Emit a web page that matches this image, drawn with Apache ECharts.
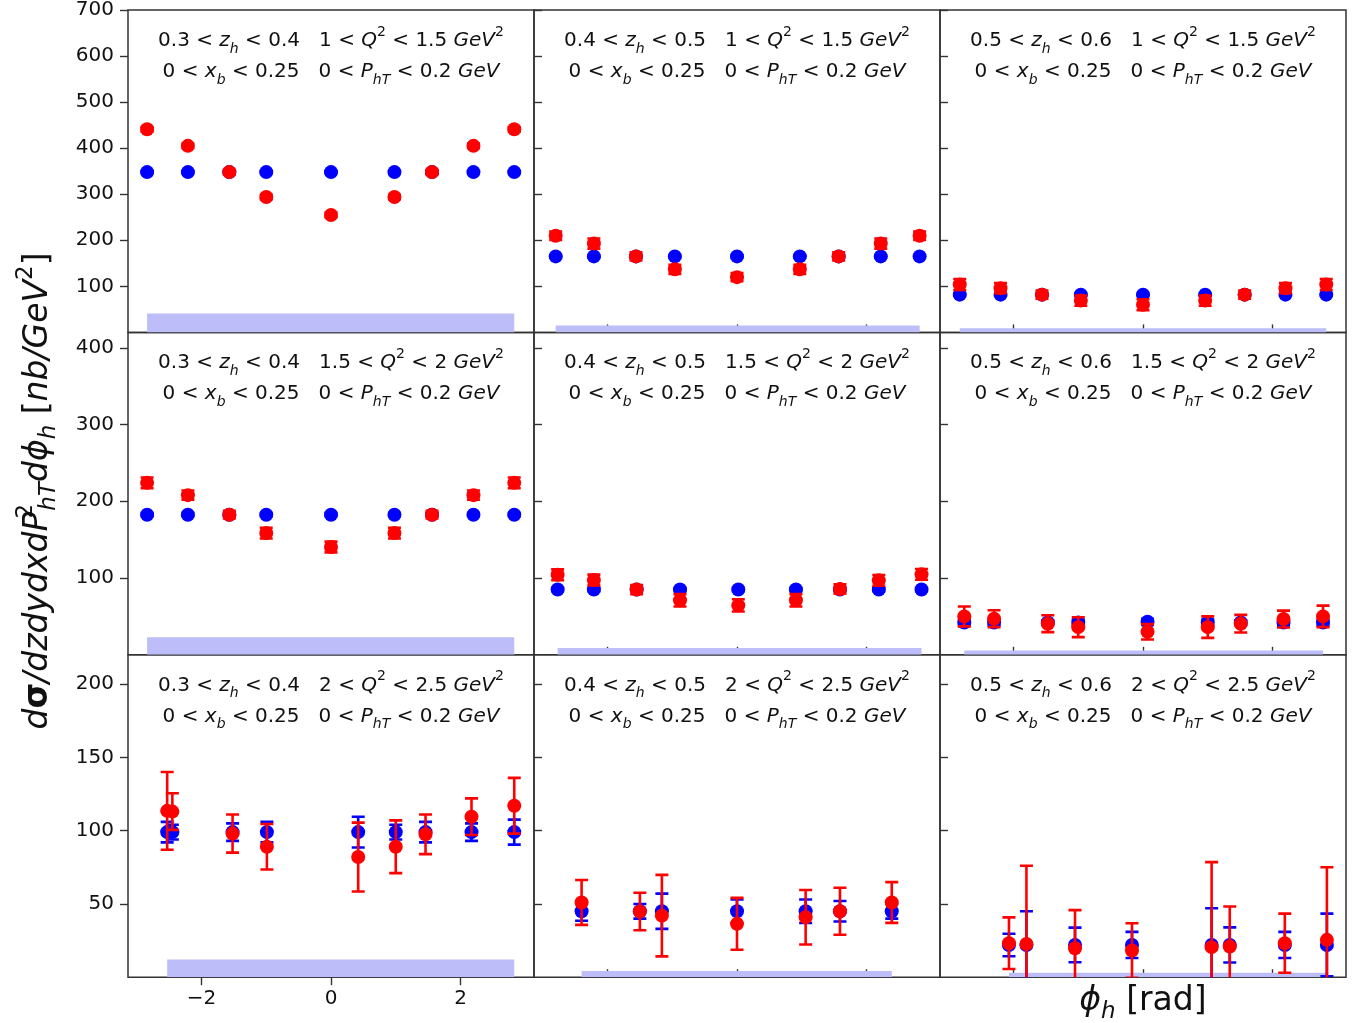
<!DOCTYPE html>
<html>
<head>
<meta charset="utf-8">
<script src="https://cdn.jsdelivr.net/npm/echarts@6/dist/echarts.min.js"></script>
<style>
  html, body { margin: 0; padding: 0; background: #fff; }
  #main { width: 1357px; height: 1023px; }
</style>
</head>
<body>
<div id="main"></div>
<script>
// bins shown in the panel labels
var zBins = [['0.3', '0.4'], ['0.4', '0.5'], ['0.5', '0.6']];
var q2Bins = [['1', '1.5'], ['1.5', '2'], ['2', '2.5']];

// x ticks (phi_h) and y ticks per row
var phiTicks = [-2, 0, 2];
var yMaxRow = [700, 420, 220];
var yTicksRow1 = [100, 200, 300, 400, 500, 600, 700];
var yTicksRow2 = [100, 200, 300, 400];
var yTicksRow3 = [50, 100, 150, 200];

// row 1 : 1 < Q2 < 1.5
var phi11 = [-2.84, -2.21, -1.57, -1.0, 0, 0.98, 1.56, 2.2, 2.83];
var blue11 = [348, 348, 348, 348, 348, 348, 348, 348, 348];
var blueErr11 = [2, 2, 2, 2, 2, 2, 2, 2, 2];
var red11 = [441, 405, 348, 294, 255, 294, 348, 405, 441];
var redErr11 = [5, 5, 5, 5, 5, 5, 5, 5, 5];
var band11 = 41;

var phi12 = [-2.8, -2.21, -1.56, -0.96, 0, 0.97, 1.57, 2.22, 2.82];
var blue12 = [165, 165, 165, 165, 165, 165, 165, 165, 165];
var blueErr12 = [2, 2, 2, 2, 2, 2, 2, 2, 2];
var red12 = [210, 193, 165, 137, 120, 137, 165, 193, 210];
var redErr12 = [9, 11, 9, 10, 9, 10, 9, 11, 9];
var band12 = 15;

var phi13 = [-2.83, -2.2, -1.56, -0.96, 0, 0.96, 1.57, 2.2, 2.83];
var blue13 = [82, 82, 82, 82, 82, 82, 82, 82, 82];
var blueErr13 = [2, 2, 2, 2, 2, 2, 2, 2, 2];
var red13 = [104, 96, 82, 69, 60, 69, 82, 96, 104];
var redErr13 = [12, 11, 9, 11, 12, 11, 9, 11, 12];
var band13 = 9;

// row 2 : 1.5 < Q2 < 2
var phi21 = [-2.84, -2.21, -1.57, -1.0, 0, 0.98, 1.56, 2.2, 2.83];
var blue21 = [182.5, 182.5, 182.5, 182.5, 182.5, 182.5, 182.5, 182.5, 182.5];
var blueErr21 = [2, 2, 2, 2, 2, 2, 2, 2, 2];
var red21 = [224, 208, 182.5, 158.6, 140.4, 158.6, 182.5, 208, 224];
var redErr21 = [7, 6, 5, 7, 7, 7, 5, 6, 7];
var band21 = 23;

var phi22 = [-2.77, -2.21, -1.55, -0.88, 0.02, 0.91, 1.59, 2.19, 2.85];
var blue22 = [85, 85, 85, 85, 85, 85, 85, 85, 85];
var blueErr22 = [2, 2, 2, 2, 2, 2, 2, 2, 2];
var red22 = [104.3, 97.4, 85, 71, 64.4, 71, 85.7, 97, 104.8];
var redErr22 = [7, 7, 6, 8, 8, 8, 6, 7, 7];
var band22 = 8.7;

var phi23 = [-2.76, -2.3, -1.47, -1.0, 0.07, 1.0, 1.51, 2.17, 2.78];
var blue23 = [42, 42, 42, 42, 43, 42, 42, 42, 42];
var blueErr23 = [4, 4, 3, 4, 4, 4, 3, 4, 4];
var red23 = [50, 47, 40.5, 36, 30, 36, 40.5, 46.6, 50];
var redErr23 = [13, 11, 11, 13, 10, 14, 11.5, 11, 14];
var band23 = 5.6;

// row 3 : 2 < Q2 < 2.5
var phi31 = [-2.53, -2.45, -1.52, -0.99, 0.42, 1.0, 1.46, 2.17, 2.83];
var blue31 = [99, 99, 99, 99, 99, 99, 99, 99, 99];
var blueErr31 = [7, 5, 6, 7, 10.5, 5, 7, 6, 8.5];
var red31 = [113.5, 113, 98, 89, 82, 89, 97.5, 109.5, 117];
var redErr31 = [26.5, 12.5, 13, 15.5, 23.5, 18, 13.5, 12.5, 19];
var band31 = 12;

var phi32 = [-2.4, -1.5, -1.16, 0, 1.06, 1.59, 2.39];
var blue32 = [45, 45, 45, 45, 45, 45, 45];
var blueErr32 = [6.5, 5, 12, 8, 8, 7, 5];
var red32 = [51, 44.8, 42, 36.4, 40.9, 45, 51];
var redErr32 = [15.3, 12.8, 27.8, 17.7, 18.6, 16, 13.9];
var band32 = 4.3;

var phi33 = [-2.07, -1.8, -1.05, -0.17, 1.06, 1.34, 2.19, 2.84];
var blue33 = [22, 22, 22, 22, 22, 22, 22, 22];
var blueErr33 = [7.7, 23, 11.8, 8.9, 25, 12, 8.9, 21.4];
var red33 = [23.2, 22.7, 19.8, 18.2, 20.5, 20.9, 23.2, 25.5];
var redErr33 = [17.6, 53.4, 26, 18.6, 58, 27.3, 20.2, 49.5];
var band33 = 3;

var panels = [
  { phi: phi11, blue: blue11, blueErr: blueErr11, red: red11, redErr: redErr11, band: band11 },
  { phi: phi12, blue: blue12, blueErr: blueErr12, red: red12, redErr: redErr12, band: band12 },
  { phi: phi13, blue: blue13, blueErr: blueErr13, red: red13, redErr: redErr13, band: band13 },
  { phi: phi21, blue: blue21, blueErr: blueErr21, red: red21, redErr: redErr21, band: band21 },
  { phi: phi22, blue: blue22, blueErr: blueErr22, red: red22, redErr: redErr22, band: band22 },
  { phi: phi23, blue: blue23, blueErr: blueErr23, red: red23, redErr: redErr23, band: band23 },
  { phi: phi31, blue: blue31, blueErr: blueErr31, red: red31, redErr: redErr31, band: band31 },
  { phi: phi32, blue: blue32, blueErr: blueErr32, red: red32, redErr: redErr32, band: band32 },
  { phi: phi33, blue: blue33, blueErr: blueErr33, red: red33, redErr: redErr33, band: band33 }
];
var yTicksByRow = [yTicksRow1, yTicksRow2, yTicksRow3];

// layout
var L = 128, T = 10, W = 406, H = 322.4;
var FONT = 'DejaVu Sans';
var INK = '#111';

var richPanel = {
  n:  { fontFamily: FONT, fontSize: 20, lineHeight: 31, color: INK },
  i:  { fontFamily: FONT, fontSize: 20, lineHeight: 31, color: INK, fontStyle: 'italic' },
  sb: { fontFamily: FONT, fontSize: 14, lineHeight: 17, color: INK, fontStyle: 'italic', verticalAlign: 'bottom' },
  sp: { fontFamily: FONT, fontSize: 14, lineHeight: 19, color: INK, verticalAlign: 'top' }
};

function panelText(zb, qb) {
  return '{n|' + zb[0] + ' < }{i|z}{sb|h}{n| < ' + zb[1] + '   ' + qb[0] + ' < }{i|Q}{sp|2}{n| < ' + qb[1] + ' }{i|GeV}{sp|2}\n' +
         '{n|0 < }{i|x}{sb|b}{n| < 0.25   0 < }{i|P}{sb|hT}{n| < 0.2 }{i|GeV}';
}

function errSeries(idx, xs, ys, es, color, z) {
  return {
    type: 'custom', xAxisIndex: idx, yAxisIndex: idx, z: z, clip: true, silent: true,
    data: xs.map(function (x, k) { return [x, ys[k] - es[k], ys[k] + es[k]]; }),
    encode: { x: 0, y: [1, 2] },
    renderItem: function (params, api) {
      var x = api.value(0);
      var top = api.coord([x, api.value(2)]);
      var bot = api.coord([x, api.value(1)]);
      var hw = 6.5;
      var st = { stroke: color, lineWidth: 2.6 };
      return { type: 'group', children: [
        { type: 'line', shape: { x1: top[0], y1: top[1], x2: bot[0], y2: bot[1] }, style: st },
        { type: 'line', shape: { x1: top[0] - hw, y1: top[1], x2: top[0] + hw, y2: top[1] }, style: st },
        { type: 'line', shape: { x1: bot[0] - hw, y1: bot[1], x2: bot[0] + hw, y2: bot[1] }, style: st }
      ] };
    }
  };
}

var grids = [], xAxes = [], yAxes = [], series = [], graphics = [];

panels.forEach(function (p, idx) {
  var r = Math.floor(idx / 3), c = idx % 3;
  grids.push({
    left: L + c * W, top: T + r * H, width: W, height: H,
    show: true, borderColor: '#333', borderWidth: 1.5, backgroundColor: 'transparent',
    outerBoundsMode: 'none'
  });
  var showXLab = (r === 2 && c === 0);
  xAxes.push({
    type: 'value', gridIndex: idx, min: -3.135, max: 3.135, position: 'bottom',
    axisLine: { show: false, onZero: false },
    splitLine: { show: false },
    axisTick: {
      show: !(c === 0 && r < 2), inside: !showXLab, length: 8,
      lineStyle: { color: '#333', width: 1.4 }, customValues: phiTicks
    },
    axisLabel: {
      show: showXLab, margin: 12, fontFamily: FONT, fontSize: 20, color: INK,
      customValues: phiTicks,
      formatter: function (v) { return v < 0 ? '\u2212' + (-v) : String(v); }
    }
  });
  yAxes.push({
    type: 'value', gridIndex: idx, min: 0, max: yMaxRow[r], position: 'left',
    axisLine: { show: false, onZero: false },
    splitLine: { show: false },
    axisTick: {
      show: true, inside: c !== 0, length: 8,
      lineStyle: { color: '#333', width: 1.4 }, customValues: yTicksByRow[r]
    },
    axisLabel: {
      show: c === 0, margin: 14, fontFamily: FONT, fontSize: 20, color: INK,
      customValues: yTicksByRow[r]
    }
  });

  var x0 = p.phi[0], x1 = p.phi[p.phi.length - 1];
  series.push({
    type: 'line', xAxisIndex: idx, yAxisIndex: idx, z: 1, silent: true,
    data: [[x0, p.band], [x1, p.band]],
    symbol: 'none', lineStyle: { width: 0 },
    areaStyle: { color: '#bdbdf9', opacity: 1 }
  });
  series.push(errSeries(idx, p.phi, p.blue, p.blueErr, '#0000ff', 2));
  series.push({
    type: 'scatter', xAxisIndex: idx, yAxisIndex: idx, z: 3, silent: true,
    data: p.phi.map(function (x, k) { return [x, p.blue[k]]; }),
    symbol: 'circle', symbolSize: 14, itemStyle: { color: '#0000ff', opacity: 1 }
  });
  series.push(errSeries(idx, p.phi, p.red, p.redErr, '#ff0000', 4));
  series.push({
    type: 'scatter', xAxisIndex: idx, yAxisIndex: idx, z: 5, silent: true,
    data: p.phi.map(function (x, k) { return [x, p.red[k]]; }),
    symbol: 'circle', symbolSize: 14, itemStyle: { color: '#ff0000', opacity: 1 }
  });

  graphics.push({
    type: 'text', x: L + c * W + W / 2, y: T + r * H + 15, z: 10,
    style: { text: panelText(zBins[c], q2Bins[r]), rich: richPanel, align: 'center', verticalAlign: 'top',
             fontFamily: FONT, fontSize: 20, fill: INK }
  });
});

// axis titles
var richTitle = {
  n:  { fontFamily: FONT, fontSize: 33, color: INK, lineHeight: 46 },
  i:  { fontFamily: FONT, fontSize: 33, color: INK, lineHeight: 46, fontStyle: 'italic' },
  b:  { fontFamily: FONT, fontSize: 33, color: INK, lineHeight: 46, fontWeight: 'bold' },
  sp: { fontFamily: FONT, fontSize: 23, color: INK, verticalAlign: 'top', lineHeight: 24, width: 1 },
  sp2:{ fontFamily: FONT, fontSize: 23, color: INK, verticalAlign: 'top', lineHeight: 26 },
  sb: { fontFamily: FONT, fontSize: 23, color: INK, fontStyle: 'italic', verticalAlign: 'bottom', lineHeight: 28 }
};
graphics.push({
  type: 'text', x: 38, y: 491, rotation: Math.PI / 2, z: 10,
  style: {
    text: '{i|d}{b|\u03c3}{i|/dzdydxdP}{sp|2}{sb|hT}{i|d\u03d5}{sb|h}{n| [}{i|nb/GeV}{sp2|2}{n|]}',
    rich: richTitle, align: 'center', verticalAlign: 'middle', fontFamily: FONT, fontSize: 33, fill: INK
  }
});
graphics.push({
  type: 'text', x: L + 2 * W + W / 2, y: 1001, z: 10,
  style: {
    text: '{i|\u03d5}{sb|h}{n| [rad]}',
    rich: richTitle, align: 'center', verticalAlign: 'middle', fontFamily: FONT, fontSize: 33, fill: INK
  }
});

var chart = echarts.init(document.getElementById('main'));
chart.setOption({
  animation: false,
  backgroundColor: '#fff',
  grid: grids,
  xAxis: xAxes,
  yAxis: yAxes,
  series: series,
  graphic: graphics
});
</script>
</body>
</html>
